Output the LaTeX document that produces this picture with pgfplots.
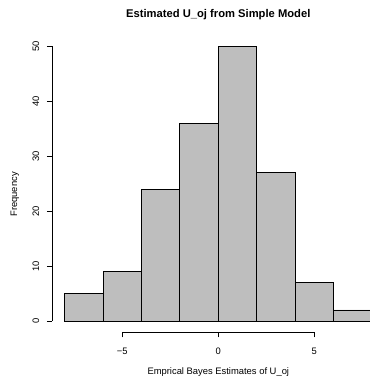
\documentclass[border=0pt]{standalone}
\usepackage{fontspec}
\setmainfont{Liberation Sans}
\usepackage{pgfplots}
\pgfplotsset{compat=1.18}
\definecolor{bargray}{HTML}{BEBEBE}
\newcommand{\lblfont}{\fontsize{9.4bp}{11bp}\selectfont}
\begin{document}
\begin{tikzpicture}[x=1bp,y=1bp]
\useasboundingbox (0,0) rectangle (370,378);
\begin{axis}[
  at={(52.4bp,46bp)}, anchor=south west,
  scale only axis, width=331.8bp, height=297bp,
  xmin=-8.64, xmax=8.64, ymin=-2, ymax=52,
  axis line style={draw=none},
  tick align=outside, major tick length=5.5bp,
  tick style={black, line width=0.8bp},
  xtick={-5,0,5}, xticklabels={,,},
  ytick={0,10,...,50}, yticklabels={,,,,,},
  xtick pos=bottom, ytick pos=left,
  minor tick num=0,
  clip=false,
]
\addplot[ybar interval, fill=bargray, draw=black, line width=0.8bp] coordinates {(-8,5) (-6,9) (-4,24) (-2,36) (0,50) (2,27) (4,7) (6,2) (8,2)};
\draw[line width=0.8bp] (axis cs:-5,-2) -- (axis cs:5,-2);
\draw[line width=0.8bp] (axis cs:-8.64,0) -- (axis cs:-8.64,50);
\end{axis}
\foreach \x/\t in {122.3/−5,218.3/0,314.3/5} {
  \node[anchor=base, inner sep=0pt, font=\lblfont] at (\x,23.8) {\t};
}
\foreach \v/\y in {0/57,10/112,20/167,30/222,40/277,50/332} {
  \node[anchor=base, rotate=90, inner sep=0pt, font=\lblfont] at (39,\y) {\v};
}
\node[anchor=base, inner sep=0pt, font=\bfseries\fontsize{11.2bp}{13bp}\selectfont] at (218.3,360.8) {Estimated U\_oj from Simple Model};
\node[anchor=base, inner sep=0pt, font=\lblfont] at (218.3,3.4) {Emprical Bayes Estimates of U\_oj};
\node[anchor=base, rotate=90, inner sep=0pt, font=\lblfont] at (17,183.5) {Frequency};
\end{tikzpicture}
\end{document}
